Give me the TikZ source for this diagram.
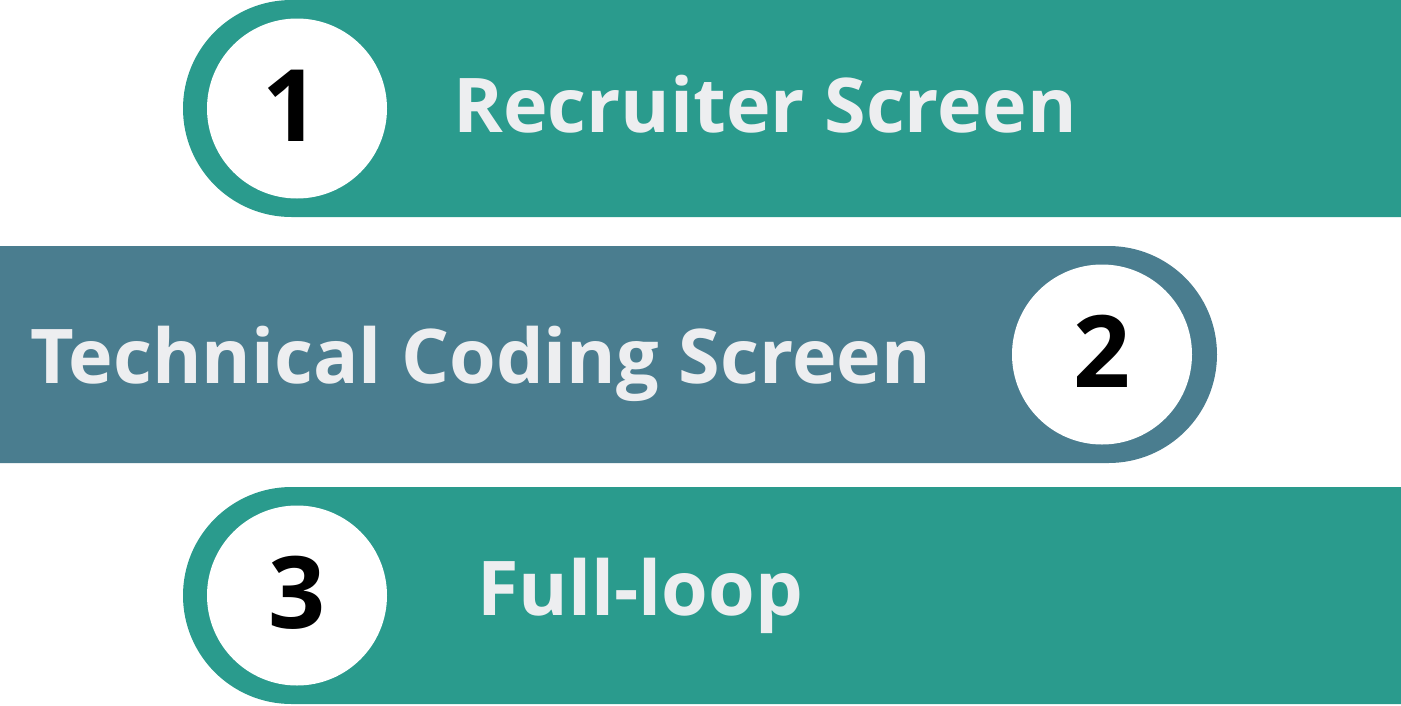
\documentclass[tikz,border=0pt]{standalone}
\usepackage{fontspec}
\setmainfont{Open Sans}
\usetikzlibrary{positioning}

\definecolor{stepteal}{HTML}{2A9B8D}
\definecolor{stepslate}{HTML}{4A7D8F}
\definecolor{steptextgray}{HTML}{EDEEF0}

\begin{document}
\begin{tikzpicture}
    [
      x=1pt, y=-1pt,
      stepdisc/.style={circle,fill=white,minimum size=180pt,inner sep=0pt},
      stepnum/.style={inner sep=0pt,text=black,
        font=\bfseries\fontsize{100}{100}\selectfont},
      steptext/.style={anchor=base west,inner sep=0pt,text=steptextgray,
        font=\bfseries\fontsize{75.5}{75.5}\selectfont},
    ]

    \fill [white] (0,0) rectangle (1401,705);
    \useasboundingbox (0,0) rectangle (1401,705);

    % bars
    \fill [stepteal] (1401,0) -- (291.5,0)
      arc [start angle=90, end angle=270, radius=108.5pt] -- (1401,217) -- cycle;
    \fill [stepslate] (0,246) -- (1108.5,246)
      arc [start angle=90, end angle=-90, radius=108.5pt] -- (0,463) -- cycle;
    \fill [stepteal] (1401,487) -- (291.5,487)
      arc [start angle=90, end angle=270, radius=108.5pt] -- (1401,704) -- cycle;

    % numbers
    \node (disc-1) [stepdisc] at (297,108.5) {};
    \node (disc-2) [stepdisc] at (1102,354.5) {};
    \node (disc-3) [stepdisc] at (297,595.5) {};
    \node (num-1) [stepnum] at ([xshift=-6pt,yshift=3pt]disc-1.center) {1};
    \node (num-2) [stepnum] at ([yshift=3pt]disc-2.center) {2};
    \node (num-3) [stepnum] at ([yshift=3pt]disc-3.center) {3};

    % titles
    \node (title-1) [steptext] at (453,132) {Recruiter Screen};
    \node (title-2) [steptext] at (30,383) {Technical Coding Screen};
    \node (title-3) [steptext] at (477,615) {Full-loop};

\end{tikzpicture}
\end{document}
